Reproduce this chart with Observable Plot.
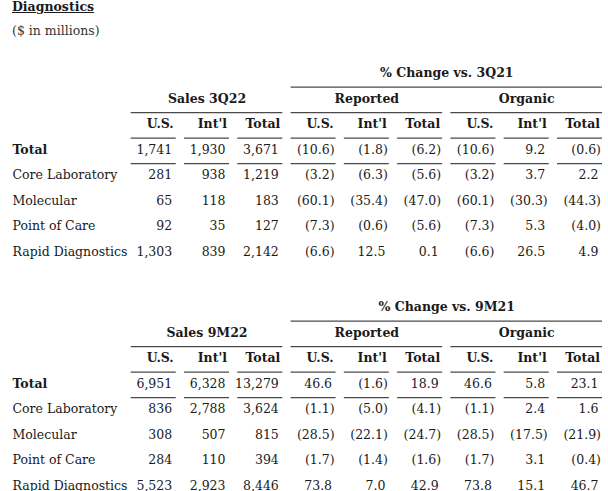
<!DOCTYPE html>
<html><head><meta charset="utf-8">
<script src="https://cdn.jsdelivr.net/npm/d3@7"></script>
<script src="https://cdn.jsdelivr.net/npm/@observablehq/plot@0.6"></script>
<style>
body{margin:0;background:#fff;font-family:"DejaVu Serif",serif;color:#1a1a1a;width:608px;height:491px;overflow:hidden;position:relative;}
#title{position:absolute;left:12px;top:0px;font-weight:bold;text-decoration:underline;font-size:12.5px;line-height:14px;}
#sub{position:absolute;left:12px;top:23px;font-size:12.5px;line-height:16px;color:#333;}
#t1{position:absolute;left:0;top:60px;}
#t2{position:absolute;left:0;top:294px;}
</style></head>
<body>
<div id="title">Diagnostics</div>
<div id="sub">($ in millions)</div>
<div id="t1"></div>
<div id="t2"></div>
<script>
// ---- data ----
const rowLabels = ["Total", "Core Laboratory", "Molecular", "Point of Care", "Rapid Diagnostics"];
const colLabels = ["U.S.", "Int'l", "Total"];
const groupLabels = ["Reported", "Organic"];

// 3Q22
const q3Title = "Sales 3Q22";
const q3Change = "% Change vs. 3Q21";
const q3SalesUS = [1741, 281, 65, 92, 1303];
const q3SalesIntl = [1930, 938, 118, 35, 839];
const q3SalesTotal = [3671, 1219, 183, 127, 2142];
const q3RepUS = [-10.6, -3.2, -60.1, -7.3, -6.6];
const q3RepIntl = [-1.8, -6.3, -35.4, -0.6, 12.5];
const q3RepTotal = [-6.2, -5.6, -47.0, -5.6, 0.1];
const q3OrgUS = [-10.6, -3.2, -60.1, -7.3, -6.6];
const q3OrgIntl = [9.2, 3.7, -30.3, 5.3, 26.5];
const q3OrgTotal = [-0.6, 2.2, -44.3, -4.0, 4.9];

// 9M22
const m9Title = "Sales 9M22";
const m9Change = "% Change vs. 9M21";
const m9SalesUS = [6951, 836, 308, 284, 5523];
const m9SalesIntl = [6328, 2788, 507, 110, 2923];
const m9SalesTotal = [13279, 3624, 815, 394, 8446];
const m9RepUS = [46.6, -1.1, -28.5, -1.7, 73.8];
const m9RepIntl = [-1.6, -5.0, -22.1, -1.4, 7.0];
const m9RepTotal = [18.9, -4.1, -24.7, -1.6, 42.9];
const m9OrgUS = [46.6, -1.1, -28.5, -1.7, 73.8];
const m9OrgIntl = [5.8, 2.4, -17.5, 3.1, 15.1];
const m9OrgTotal = [23.1, 1.6, -21.9, -0.4, 46.7];

// ---- drawing ----
const cols = ["sUS","sIntl","sTot","rUS","rIntl","rTot","oUS","oIntl","oTot"];
const X0 = 130.7, X1 = 602, PAD = 0.155;
const step = (X1 - X0) / (cols.length - PAD);
const bw = step * (1 - PAD);
const FONT = "'DejaVu Serif', serif";
const INK = "#1a1a1a", LINE = "#4a4a4a";

function fmtSales(v){ return d3.format(",")(v); }
function fmtPct(v){ return v < 0 ? "(" + Math.abs(v).toFixed(1) + ")" : v.toFixed(1); }

function table(title, change, series) {
  const rows = ["top", "group", "cols", ...rowLabels];
  const H = 204;
  const band = H / rows.length;
  const cells = [];
  series.forEach((vals, j) => {
    vals.forEach((v, i) => {
      const isSales = j < 3;
      const text = isSales ? fmtSales(v) : fmtPct(v);
      cells.push({row: rowLabels[i], col: cols[j], text, paren: !isSales && v < 0});
    });
  });
  const colHeads = cols.map((c, j) => ({col: c, text: colLabels[j % 3]}));
  const groups = [
    {col: "sIntl", text: title},
    {col: "rIntl", text: groupLabels[0]},
    {col: "oIntl", text: groupLabels[1]}
  ];
  const spanRules = [
    {row: "top", x1: "rUS", x2: "oTot"},
    {row: "group", x1: "sUS", x2: "sTot"},
    {row: "group", x1: "rUS", x2: "rTot"},
    {row: "group", x1: "oUS", x2: "oTot"}
  ];
  const colRules = [];
  for (const r of ["cols", "Total"]) for (const c of cols) colRules.push({row: r, col: c});
  const dyLine = band / 2 + 1.2;
  return Plot.plot({
    width: 608, height: H,
    marginTop: 0, marginBottom: 0, marginRight: 0, marginLeft: 12,
    x: {type: "band", domain: cols, range: [X0, X1], paddingInner: PAD, paddingOuter: 0, round: false, axis: null},
    y: {type: "band", domain: rows, padding: 0, round: false, axis: null},
    style: {fontFamily: FONT, fontSize: "12.5px", color: INK, background: "transparent", overflow: "visible"},
    marks: [
      Plot.ruleY(spanRules, {y: "row", x1: "x1", x2: "x2", dy: dyLine, stroke: LINE, strokeWidth: 1.3}),
      Plot.ruleY(colRules, {y: "row", x1: "col", x2: "col", dy: dyLine, stroke: LINE, strokeWidth: 1.3}),
      Plot.text([change], {x: () => "rTot", y: () => "top", text: d => d, dx: step / 2, textAnchor: "middle", fontWeight: "bold", fill: INK}),
      Plot.text(groups, {x: "col", y: () => "group", text: "text", textAnchor: "middle", fontWeight: "bold", fill: INK}),
      Plot.text(colHeads, {x: "col", y: () => "cols", text: "text", textAnchor: "end", dx: bw / 2 - 2.5, fontWeight: "bold", fill: INK}),
      Plot.text(rowLabels.slice(0, 1), {y: d => d, text: d => d, frameAnchor: "left", textAnchor: "start", fontWeight: "bold", fill: INK}),
      Plot.text(rowLabels.slice(1), {y: d => d, text: d => d, frameAnchor: "left", textAnchor: "start", fill: INK}),
      Plot.text(cells.filter(d => d.paren), {x: "col", y: "row", text: "text", textAnchor: "end", dx: bw / 2 - 1.5, fill: INK}),
      Plot.text(cells.filter(d => !d.paren), {x: "col", y: "row", text: "text", textAnchor: "end", dx: bw / 2 - 4, fill: INK})
    ]
  });
}

document.getElementById("t1").appendChild(table(q3Title, q3Change,
  [q3SalesUS, q3SalesIntl, q3SalesTotal, q3RepUS, q3RepIntl, q3RepTotal, q3OrgUS, q3OrgIntl, q3OrgTotal]));
document.getElementById("t2").appendChild(table(m9Title, m9Change,
  [m9SalesUS, m9SalesIntl, m9SalesTotal, m9RepUS, m9RepIntl, m9RepTotal, m9OrgUS, m9OrgIntl, m9OrgTotal]));
</script>
</body></html>
